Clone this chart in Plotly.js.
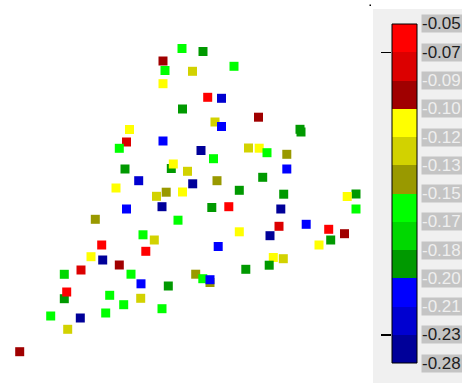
<!DOCTYPE html>
<html>
<head>
<meta charset="utf-8">
<script src="https://cdn.plot.ly/plotly-3.0.1.min.js"></script>
<style>html,body{margin:0;padding:0;background:#fff;}#chart{width:462px;height:383px;}</style>
</head>
<body>
<div id="chart"></div>
<script>
// Colour-bar tick labels (top to bottom) and band colours between them
const tickLabels = ["-0.05","-0.07","-0.09","-0.10","-0.12","-0.13","-0.15","-0.17","-0.18","-0.20","-0.21","-0.23","-0.28"];
const bandColors = ["#ff0000","#dc0000","#a00000","#ffff00","#d2d200","#999900","#00ff00","#00d800","#009900","#0000ff","#0000d0","#000099"];

const xVals = [182,203,163,165,192.5,234,163,207.7,221.5,182.5,215,221.5,129.5,126.5,163,201,248.5,213.5,171.3,173.3,187.5,138.7,192.7,217,239.3,166.2,182.5,156.5,119.3,125,116,258.5,300,301,259.2,267,286.8,286.8,262.7,283.7,356,347.2,356,280.8,279,306.2,270,328.7,344.5,330.7,319,273.3,283.3,269.2,162,211.8,228.8,178,143,154.3,239.3,218.2,145.8,131,245.8,195.7,210,202.8,210,141,168.3,140.7,162,126.5,95.3,101.7,91,102.7,119.3,64.3,81,64.3,66.7,109.7,123.7,105.7,50.7,80.3,67.7,19.7];
const yVals = [48.5,51.5,61,70.5,71.3,66.3,83.7,97.3,98.3,109,122,126.5,129.5,142,141,150.5,148,158.7,168.5,164,171.3,180.7,183.8,180.7,190.3,192.2,192,196.3,148.3,169,188,117.2,129.3,132,148.2,152.7,154.3,169,177.3,194.2,194,196.5,209,209,226.3,224.3,235.7,229.3,233.7,240,245,257.5,258.7,265.2,206.7,207.5,206.7,220.2,234.8,240,231.8,246.5,251.3,274.2,269.3,274.2,282.5,278.7,279.7,283.8,286,298.3,308.7,209,219.3,245,256.7,260,265,274.3,270,298.7,292,295.3,304.7,313,316,318,329.3,351.7];
const values = [-0.16,-0.19,-0.095,-0.16,-0.125,-0.16,-0.11,-0.06,-0.22,-0.19,-0.125,-0.205,-0.11,-0.08,-0.205,-0.25,-0.125,-0.16,-0.19,-0.11,-0.125,-0.22,-0.25,-0.14,-0.19,-0.14,-0.11,-0.125,-0.16,-0.19,-0.11,-0.095,-0.19,-0.19,-0.11,-0.16,-0.14,-0.205,-0.19,-0.19,-0.19,-0.11,-0.16,-0.25,-0.08,-0.205,-0.25,-0.06,-0.095,-0.19,-0.11,-0.11,-0.125,-0.19,-0.25,-0.19,-0.06,-0.16,-0.16,-0.125,-0.11,-0.205,-0.06,-0.16,-0.19,-0.14,-0.14,-0.16,-0.205,-0.205,-0.19,-0.125,-0.16,-0.205,-0.14,-0.06,-0.11,-0.25,-0.095,-0.175,-0.08,-0.19,-0.06,-0.16,-0.16,-0.16,-0.16,-0.25,-0.125,-0.095];

const tickNums = tickLabels.map(Number);
function bandOf(v){
  for (let i = 0; i < bandColors.length; i++) {
    if (v <= tickNums[i] && v > tickNums[i+1]) return i;
  }
  return bandColors.length - 1;
}
const pointColors = values.map(v => bandColors[bandOf(v)]);

const nb = bandColors.length;
const scatter = {
  type: 'scatter', mode: 'markers', x: xVals, y: yVals,
  marker: {symbol: 'square', size: 9, color: pointColors, line: {width: 0}},
  hoverinfo: 'skip', xaxis: 'x', yaxis: 'y'
};
const bar = {
  type: 'heatmap', x: [0],
  y: bandColors.map((c, k) => nb - k - 0.5),
  z: bandColors.map((c, k) => [k]),
  colorscale: bandColors.map((c, k) => [k / (nb - 1), c]),
  zmin: 0, zmax: nb - 1, showscale: false, hoverinfo: 'skip',
  xaxis: 'x2', yaxis: 'y2'
};

const darkLabels = [0, 1, 11, 12];
const annotations = tickLabels.map((t, k) => ({
  text: t, xref: 'paper', yref: 'y2', x: 421/462, y: nb - k,
  xanchor: 'left', yanchor: 'middle', showarrow: false,
  bgcolor: '#c4c4c4', borderpad: 0, width: 44, height: 17, align: 'left',
  font: {family: 'Liberation Sans, Arial, sans-serif', size: 17,
         color: darkLabels.includes(k) ? '#1e1e1e' : '#efefef'}
}));

const layout = {
  width: 462, height: 383, margin: {l: 0, r: 0, t: 0, b: 0},
  paper_bgcolor: '#ffffff', plot_bgcolor: 'rgba(0,0,0,0)', showlegend: false,
  xaxis: {range: [0, 462], domain: [0, 1], visible: false, fixedrange: true},
  yaxis: {range: [383, 0], domain: [0, 1], visible: false, fixedrange: true},
  xaxis2: {range: [-0.5, 0.5], domain: [392/462, 417/462], anchor: 'y2', visible: false},
  yaxis2: {range: [0, nb], domain: [20/383, 359/383], anchor: 'x2',
           showgrid: false, zeroline: false, showline: false, showticklabels: false,
           ticks: 'outside', tickmode: 'array', tickvals: [nb - 1, 1],
           ticklen: 10, tickwidth: 1.5, tickcolor: '#000000'},
  shapes: [
    {type: 'rect', xref: 'paper', yref: 'paper', x0: 373/462, x1: 1, y0: 0, y1: 374/383,
     fillcolor: '#f0f0f0', line: {width: 0}, layer: 'below'},
    {type: 'rect', xref: 'x2 domain', yref: 'y2 domain', x0: 0, x1: 1, y0: 0, y1: 1,
     line: {color: '#000000', width: 1}, layer: 'above'},
    {type: 'rect', xref: 'paper', yref: 'paper', x0: 369.5/462, x1: 371/462, y0: 377/383, y1: 378.5/383,
     fillcolor: '#000000', line: {width: 0}}
  ],
  annotations: annotations
};

Plotly.newPlot('chart', [scatter, bar], layout, {staticPlot: true, displayModeBar: false});
</script>
</body>
</html>
